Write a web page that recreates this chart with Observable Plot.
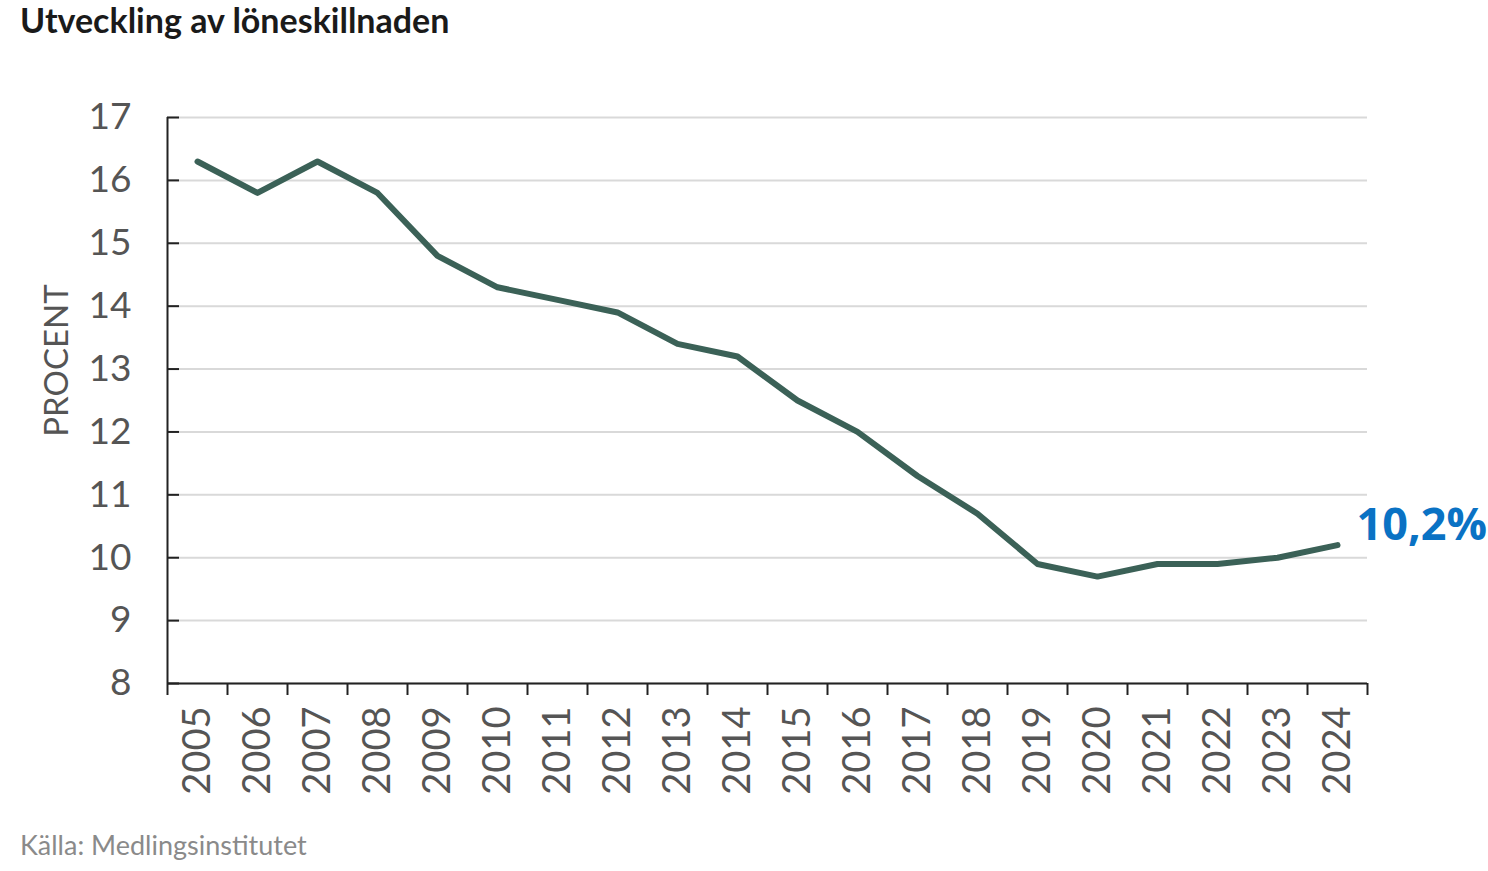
<!DOCTYPE html>
<html>
<head>
<meta charset="utf-8">
<script src="https://cdn.jsdelivr.net/npm/d3@7"></script>
<script src="https://cdn.jsdelivr.net/npm/@observablehq/plot@0.6"></script>
<style>
  body { margin: 0; background: #fff; font-family: Lato, sans-serif; }
  #title { font: bold 34px Lato, sans-serif; color: #1a1a1a; padding-left: 20px; height: 40px; line-height: 40px; }
  #caption { font: 27px Lato, sans-serif; color: #8a8a8a; padding-left: 20px; height: 30px; line-height: 30px; }
  svg { display: block; }
</style>
</head>
<body>
<div id="title">Utveckling av löneskillnaden</div>
<div id="chart"></div>
<div id="caption">Källa: Medlingsinstitutet</div>
<script>
const years = [2005, 2006, 2007, 2008, 2009, 2010, 2011, 2012, 2013, 2014, 2015, 2016, 2017, 2018, 2019, 2020, 2021, 2022, 2023, 2024];
const values = [16.3, 15.8, 16.3, 15.8, 14.8, 14.3, 14.1, 13.9, 13.4, 13.2, 12.5, 12.0, 11.3, 10.7, 9.9, 9.7, 9.9, 9.9, 10.0, 10.2];
const yTicks = [8, 9, 10, 11, 12, 13, 14, 15, 16, 17];
const endLabel = "10,2%";
const yLabel = "PROCENT";

const data = years.map((y, i) => ({year: y, value: values[i]}));
const bounds = [...years.map(y => y - 0.5), years[years.length - 1] + 0.5];

const chart = Plot.plot({
  width: 1488,
  height: 790,
  marginTop: 77,
  marginBottom: 147,
  marginLeft: 167,
  marginRight: 121,
  style: {fontFamily: "Lato, sans-serif", background: "#fff"},
  x: {domain: [bounds[0], bounds[bounds.length - 1]]},
  y: {domain: [8, 17]},
  marks: [
    Plot.gridY(yTicks, {stroke: "#d9d9d9", strokeOpacity: 1, strokeWidth: 2}),
    Plot.axisY({ticks: yTicks, tickSize: 0, tickPadding: 36, fontSize: 37, fill: "#555", label: null}),
    Plot.axisY({ticks: yTicks, tickSize: -12, text: null, stroke: "#222", strokeWidth: 2, label: null}),
    Plot.axisX({ticks: bounds, tickSize: 12, text: null, stroke: "#222", strokeWidth: 2, label: null}),
    Plot.axisX({ticks: years, tickSize: 0, tickPadding: 23, tickRotate: -90, tickFormat: d => String(d), fontSize: 38, fill: "#555", label: null}),
    Plot.ruleX([bounds[0]], {stroke: "#222", strokeWidth: 2}),
    Plot.ruleY([8], {stroke: "#222", strokeWidth: 2}),
    Plot.text([yLabel], {frameAnchor: "left", textAnchor: "middle", dx: -110, dy: -40, rotate: -90, fontSize: 33, fill: "#555", text: d => d}),
    Plot.line(data, {x: "year", y: "value", stroke: "#3b6157", strokeWidth: 6, strokeLinecap: "round", strokeLinejoin: "round"}),
    Plot.text([data[data.length - 1]], {x: "year", y: "value", text: () => endLabel, dx: 19, dy: -20, textAnchor: "start", fontSize: 45, fontWeight: "bold", fontFamily: "Open Sans, sans-serif", fill: "#0a72c4"})
  ]
});
document.getElementById("chart").appendChild(chart);
</script>
</body>
</html>
